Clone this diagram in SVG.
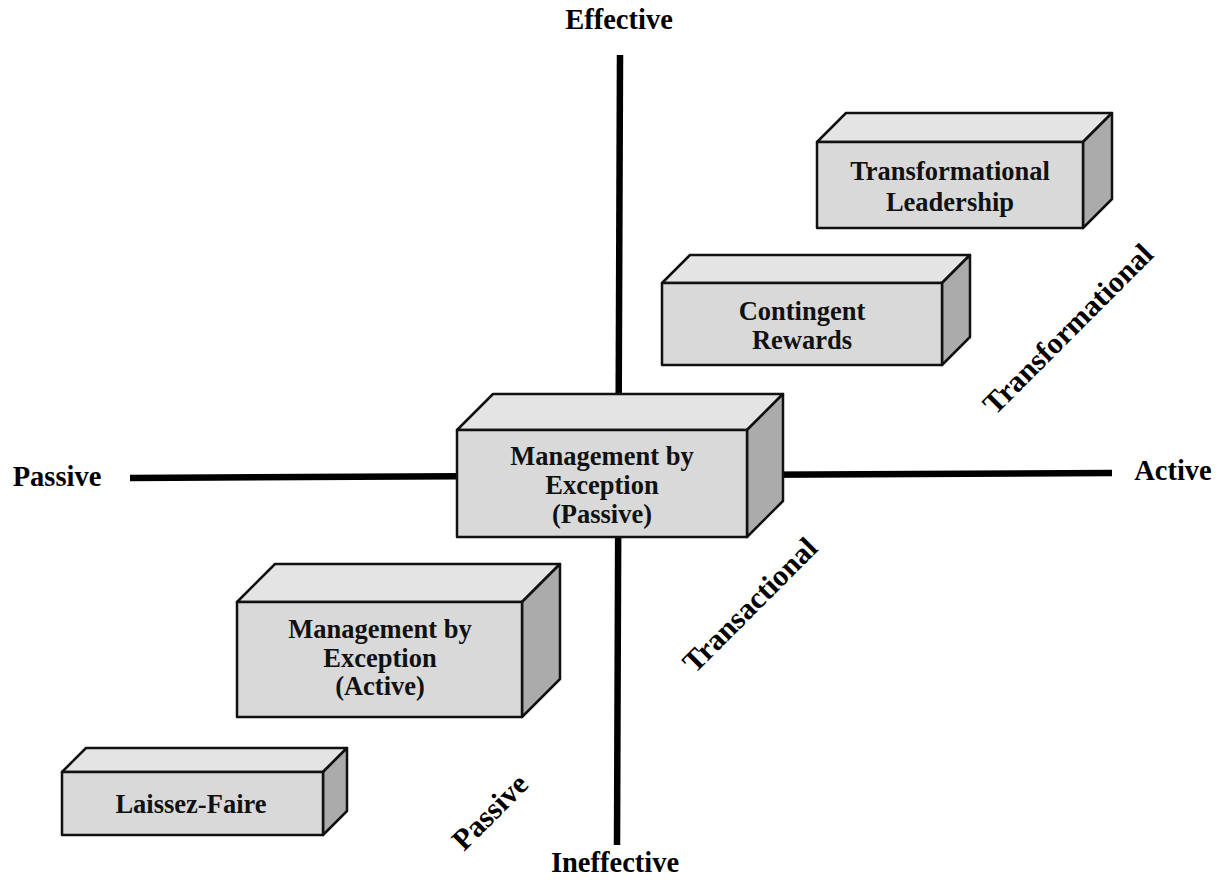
<svg xmlns="http://www.w3.org/2000/svg" width="1220" height="888" viewBox="0 0 1220 888">
<style>
.front{fill:#d9d9d9;stroke:#111;stroke-width:2.5;stroke-linejoin:round}
.top{fill:#e4e4e4;stroke:#111;stroke-width:2.5;stroke-linejoin:round}
.side{fill:#ababab;stroke:#111;stroke-width:2.5;stroke-linejoin:round}
.axis{stroke:#000;stroke-width:6.5;fill:none}
.bt{font-family:"Liberation Serif","Times New Roman",serif;font-weight:bold;font-size:26.5px;fill:#111;text-anchor:middle}
.lbl{font-family:"Liberation Serif","Times New Roman",serif;font-weight:bold;font-size:28.5px;fill:#000;text-anchor:middle}
.diag{font-family:"Liberation Serif","Times New Roman",serif;font-weight:bold;font-size:30px;fill:#000;text-anchor:middle}
</style>
<rect width="1220" height="888" fill="#fff"/>
<g id="axes">
<line class="axis" x1="620" y1="55" x2="617" y2="845"/>
<line class="axis" x1="130" y1="478" x2="1112" y2="473"/>
</g>
<g id="axis-labels">
<text class="lbl" x="619" y="29">Effective</text>
<text class="lbl" x="615" y="872">Ineffective</text>
<text class="lbl" x="57" y="486">Passive</text>
<text class="lbl" x="1173" y="480">Active</text>
<text class="diag" transform="translate(1075,336) rotate(-45)">Transformational</text>
<text class="diag" transform="translate(757,612) rotate(-45)">Transactional</text>
<text class="diag" transform="translate(497,819) rotate(-45)">Passive</text>
</g>
<g id="node-transformational">
<polygon class="top" points="817,142 846,113 1112,113 1083,142"/>
<polygon class="side" points="1083,142 1112,113 1112,199 1083,228"/>
<rect class="front" x="817" y="142" width="266" height="86"/>
<text class="bt" x="950" y="180">Transformational</text>
<text class="bt" x="950" y="211">Leadership</text>
</g>
<g id="node-contingent">
<polygon class="top" points="662,283 690,255 970,255 942,283"/>
<polygon class="side" points="942,283 970,255 970,337 942,365"/>
<rect class="front" x="662" y="283" width="280" height="82"/>
<text class="bt" x="802" y="320">Contingent</text>
<text class="bt" x="802" y="349">Rewards</text>
</g>
<g id="node-mbe-passive">
<polygon class="top" points="457,430 493,394 783,394 747,430"/>
<polygon class="side" points="747,430 783,394 783,501 747,537"/>
<rect class="front" x="457" y="430" width="290" height="107"/>
<text class="bt" x="602" y="465">Management by</text>
<text class="bt" x="602" y="494">Exception</text>
<text class="bt" x="602" y="523">(Passive)</text>
</g>
<g id="node-mbe-active">
<polygon class="top" points="237,602 275,564 560,564 522,602"/>
<polygon class="side" points="522,602 560,564 560,679 522,717"/>
<rect class="front" x="237" y="602" width="285" height="115"/>
<text class="bt" x="380" y="638">Management by</text>
<text class="bt" x="380" y="667">Exception</text>
<text class="bt" x="380" y="695">(Active)</text>
</g>
<g id="node-laissez-faire">
<polygon class="top" points="62,772 86,748 347,748 323,772"/>
<polygon class="side" points="323,772 347,748 347,811 323,835"/>
<rect class="front" x="62" y="772" width="261" height="63"/>
<text class="bt" x="191" y="813">Laissez-Faire</text>
</g>
</svg>
